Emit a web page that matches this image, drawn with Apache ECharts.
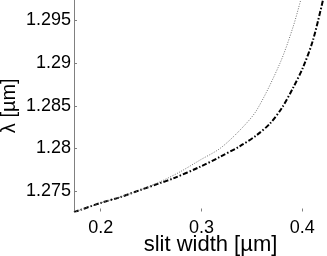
<!DOCTYPE html>
<html>
<head>
<meta charset="utf-8">
<script src="https://cdn.jsdelivr.net/npm/echarts@6/dist/echarts.min.js"></script>
<style>html,body{margin:0;padding:0;background:#fff;}#c{width:327px;height:256px;}</style>
</head>
<body>
<div id="c"></div>
<script>
const xTicks = [0.2, 0.3, 0.4];
const yTicks = [1.275, 1.28, 1.285, 1.29, 1.295];

const dottedX = [0.1735, 0.1993, 0.2192, 0.2390, 0.2588, 0.2787, 0.2985, 0.3184, 0.3382, 0.3548, 0.3779, 0.3908, 0.3984];
const dottedY = [1.27252, 1.27358, 1.27428, 1.27511, 1.27608, 1.27725, 1.27863, 1.28000, 1.28215, 1.28450, 1.29001, 1.29424, 1.29741];

const dashX = [0.1735, 0.1993, 0.2192, 0.2390, 0.2588, 0.2720, 0.2985, 0.3184, 0.3382, 0.3548, 0.3680, 0.3796, 0.3908, 0.4007, 0.4106, 0.4205];
const dashY = [1.27252, 1.27358, 1.27428, 1.27511, 1.27593, 1.27648, 1.27784, 1.27901, 1.28027, 1.28156, 1.28293, 1.28473, 1.28710, 1.28950, 1.29271, 1.29741];

const chart = echarts.init(document.getElementById('c'), null, {renderer: 'canvas'});
const font = 'Liberation Sans, Arial, sans-serif';
chart.setOption({
  animation: false,
  grid: {left: 74, top: 0, width: 273, height: 211.5, containLabel: false, outerBoundsMode: 'none'},
  xAxis: {
    type: 'value', min: 0.1735, max: 0.4443, interval: 0.1,
    name: 'slit width [\u00b5m]', nameLocation: 'middle', nameGap: 22, nameMoveOverlap: false,
    nameTextStyle: {fontFamily: font, fontSize: 22, color: '#000'},
    axisLine: {show: false},
    axisTick: {show: true, inside: true, length: 3, lineStyle: {color: '#808080'}, customValues: xTicks},
    axisLabel: {fontFamily: font, fontSize: 18, color: '#000', margin: 8,
      customValues: xTicks, formatter: v => String(+v.toFixed(3))},
    splitLine: {show: false}
  },
  yAxis: {
    type: 'value', min: 1.2726, max: 1.2974,
    name: '\u03bb [\u00b5m]', nameLocation: 'middle', nameGap: 55, nameRotate: 90, nameMoveOverlap: false,
    nameTextStyle: {fontFamily: font, fontSize: 20, color: '#000'},
    axisLine: {show: true, lineStyle: {color: '#808080', width: 1}},
    axisTick: {show: true, inside: true, length: 3, lineStyle: {color: '#808080'}, customValues: yTicks},
    axisLabel: {fontFamily: font, fontSize: 18, color: '#000', margin: 3,
      customValues: yTicks, formatter: v => String(+v.toFixed(3))},
    splitLine: {show: false}
  },
  series: [
    {type: 'line', data: dashX.map((x, i) => [x, dashY[i]]), showSymbol: false, smooth: 0.3,
      lineStyle: {color: '#000', width: 2, type: [5, 2, 1.5, 2]}},
    {type: 'line', data: dottedX.map((x, i) => [x, dottedY[i]]), showSymbol: false, smooth: 0.3,
      lineStyle: {color: '#707070', width: 1, type: [1, 1.5]}}
  ]
});
</script>
</body>
</html>
